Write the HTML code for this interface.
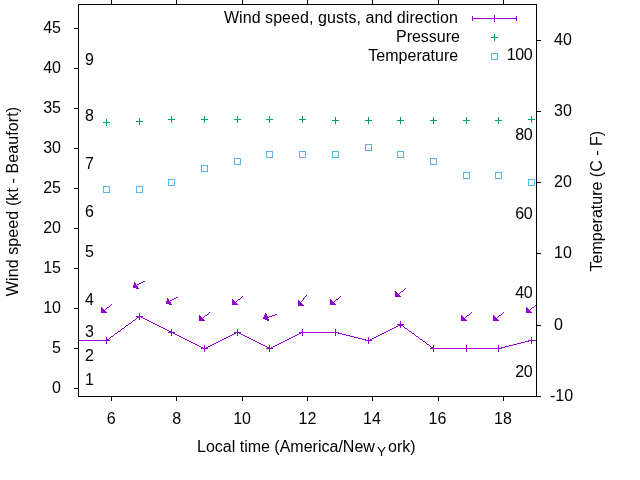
<!DOCTYPE html>
<html><head><meta charset="utf-8"><title>Wind</title>
<style>
html,body{margin:0;padding:0;background:#fff;}
svg{display:block;}
text{font-family:"Liberation Sans",sans-serif;font-size:16px;fill:#000;}
</style></head><body>
<svg width="640" height="480" viewBox="0 0 640 480">
<rect width="640" height="480" fill="#fff"/>

<text x="61" y="393.0" text-anchor="end">0</text>
<text x="61" y="353.0" text-anchor="end">5</text>
<text x="61" y="313.0" text-anchor="end">10</text>
<text x="61" y="273.0" text-anchor="end">15</text>
<text x="61" y="233.0" text-anchor="end">20</text>
<text x="61" y="193.0" text-anchor="end">25</text>
<text x="61" y="153.0" text-anchor="end">30</text>
<text x="61" y="113.0" text-anchor="end">35</text>
<text x="61" y="73.0" text-anchor="end">40</text>
<text x="61" y="33.0" text-anchor="end">45</text>
<text x="550" y="401">-10</text>
<text x="554" y="330">0</text>
<text x="554" y="258">10</text>
<text x="554" y="187">20</text>
<text x="554" y="116">30</text>
<text x="554" y="45">40</text>
<text x="111.2" y="424" text-anchor="middle">6</text>
<text x="176.6" y="424" text-anchor="middle">8</text>
<text x="242.1" y="424" text-anchor="middle">10</text>
<text x="307.5" y="424" text-anchor="middle">12</text>
<text x="372.0" y="424" text-anchor="middle">14</text>
<text x="437.5" y="424" text-anchor="middle">16</text>
<text x="502.9" y="424" text-anchor="middle">18</text>
<text x="85.1" y="385.0">1</text>
<text x="85.1" y="361.0">2</text>
<text x="85.1" y="337.0">3</text>
<text x="85.1" y="305.0">4</text>
<text x="85.1" y="257.0">5</text>
<text x="85.1" y="217.0">6</text>
<text x="85.1" y="169.0">7</text>
<text x="85.1" y="121.0">8</text>
<text x="85.1" y="65.0">9</text>
<text x="532.35" y="377" text-anchor="end" style="letter-spacing:-0.4px">20</text>
<text x="532.35" y="298" text-anchor="end" style="letter-spacing:-0.4px">40</text>
<text x="532.35" y="219" text-anchor="end" style="letter-spacing:-0.4px">60</text>
<text x="532.35" y="140" text-anchor="end" style="letter-spacing:-0.4px">80</text>
<text x="532.35" y="60" text-anchor="end" style="letter-spacing:-0.4px">100</text>
<text transform="translate(18.3,201.5) rotate(-90)" text-anchor="middle" textLength="189.4" lengthAdjust="spacing">Wind speed (kt - Beaufort)</text>
<text transform="translate(602.2,201.2) rotate(-90)" text-anchor="middle">Temperature (C - F)</text>
<text x="197" y="452">Local time (America/New</text>
<text x="377" y="455.5" style="font-size:13.5px">Y</text>
<text x="388" y="452">ork)</text>
<text x="457.8" y="23" text-anchor="end" textLength="233.9" lengthAdjust="spacing">Wind speed, gusts, and direction</text>
<text x="460" y="42" text-anchor="end">Pressure</text>
<text x="458.2" y="61" text-anchor="end">Temperature</text>
<g stroke="#9400d3" stroke-width="1" fill="none"><path d="M472.5 18.5H516.5M472.5 16V21M516.5 16V21M494.5 15V22M491 18.5H498"/></g>
<path d="M491.0 37.5H498.0M494.5 34.0V41.0" stroke="#009e73" stroke-width="1" fill="none"/>
<rect x="491.5" y="53.5" width="6" height="6" stroke="#56b4e9" stroke-width="1" fill="none"/>
<defs><clipPath id="c"><rect x="78" y="4" width="459" height="393"/></clipPath></defs>
<g clip-path="url(#c)" shape-rendering="crispEdges">
<path d="M103.0 340.5H110.0M106.5 337.0V344.0" stroke="#9400d3" stroke-width="1" fill="none"/>
<path d="M136.0 316.5H143.0M139.5 313.0V320.0" stroke="#9400d3" stroke-width="1" fill="none"/>
<path d="M168.0 332.5H175.0M171.5 329.0V336.0" stroke="#9400d3" stroke-width="1" fill="none"/>
<path d="M201.0 348.5H208.0M204.5 345.0V352.0" stroke="#9400d3" stroke-width="1" fill="none"/>
<path d="M234.0 332.5H241.0M237.5 329.0V336.0" stroke="#9400d3" stroke-width="1" fill="none"/>
<path d="M266.0 348.5H273.0M269.5 345.0V352.0" stroke="#9400d3" stroke-width="1" fill="none"/>
<path d="M299.0 332.5H306.0M302.5 329.0V336.0" stroke="#9400d3" stroke-width="1" fill="none"/>
<path d="M332.0 332.5H339.0M335.5 329.0V336.0" stroke="#9400d3" stroke-width="1" fill="none"/>
<path d="M365.0 340.5H372.0M368.5 337.0V344.0" stroke="#9400d3" stroke-width="1" fill="none"/>
<path d="M397.0 324.5H404.0M400.5 321.0V328.0" stroke="#9400d3" stroke-width="1" fill="none"/>
<path d="M430.0 348.5H437.0M433.5 345.0V352.0" stroke="#9400d3" stroke-width="1" fill="none"/>
<path d="M463.0 348.5H470.0M466.5 345.0V352.0" stroke="#9400d3" stroke-width="1" fill="none"/>
<path d="M495.0 348.5H502.0M498.5 345.0V352.0" stroke="#9400d3" stroke-width="1" fill="none"/>
<path d="M528.0 340.5H535.0M531.5 337.0V344.0" stroke="#9400d3" stroke-width="1" fill="none"/>
<path d="M103.0 122.5H110.0M106.5 119.0V126.0" stroke="#009e73" stroke-width="1" fill="none"/>
<path d="M136.0 121.5H143.0M139.5 118.0V125.0" stroke="#009e73" stroke-width="1" fill="none"/>
<path d="M168.0 119.5H175.0M171.5 116.0V123.0" stroke="#009e73" stroke-width="1" fill="none"/>
<path d="M201.0 119.5H208.0M204.5 116.0V123.0" stroke="#009e73" stroke-width="1" fill="none"/>
<path d="M234.0 119.5H241.0M237.5 116.0V123.0" stroke="#009e73" stroke-width="1" fill="none"/>
<path d="M266.0 119.5H273.0M269.5 116.0V123.0" stroke="#009e73" stroke-width="1" fill="none"/>
<path d="M299.0 119.5H306.0M302.5 116.0V123.0" stroke="#009e73" stroke-width="1" fill="none"/>
<path d="M332.0 120.5H339.0M335.5 117.0V124.0" stroke="#009e73" stroke-width="1" fill="none"/>
<path d="M365.0 120.5H372.0M368.5 117.0V124.0" stroke="#009e73" stroke-width="1" fill="none"/>
<path d="M397.0 120.5H404.0M400.5 117.0V124.0" stroke="#009e73" stroke-width="1" fill="none"/>
<path d="M430.0 120.5H437.0M433.5 117.0V124.0" stroke="#009e73" stroke-width="1" fill="none"/>
<path d="M463.0 120.5H470.0M466.5 117.0V124.0" stroke="#009e73" stroke-width="1" fill="none"/>
<path d="M495.0 120.5H502.0M498.5 117.0V124.0" stroke="#009e73" stroke-width="1" fill="none"/>
<path d="M528.0 119.5H535.0M531.5 116.0V123.0" stroke="#009e73" stroke-width="1" fill="none"/>
<rect x="103.5" y="186.5" width="6" height="6" stroke="#56b4e9" stroke-width="1" fill="none"/>
<rect x="136.5" y="186.5" width="6" height="6" stroke="#56b4e9" stroke-width="1" fill="none"/>
<rect x="168.5" y="179.5" width="6" height="6" stroke="#56b4e9" stroke-width="1" fill="none"/>
<rect x="201.5" y="165.5" width="6" height="6" stroke="#56b4e9" stroke-width="1" fill="none"/>
<rect x="234.5" y="158.5" width="6" height="6" stroke="#56b4e9" stroke-width="1" fill="none"/>
<rect x="266.5" y="151.5" width="6" height="6" stroke="#56b4e9" stroke-width="1" fill="none"/>
<rect x="299.5" y="151.5" width="6" height="6" stroke="#56b4e9" stroke-width="1" fill="none"/>
<rect x="332.5" y="151.5" width="6" height="6" stroke="#56b4e9" stroke-width="1" fill="none"/>
<rect x="365.5" y="144.5" width="6" height="6" stroke="#56b4e9" stroke-width="1" fill="none"/>
<rect x="397.5" y="151.5" width="6" height="6" stroke="#56b4e9" stroke-width="1" fill="none"/>
<rect x="430.5" y="158.5" width="6" height="6" stroke="#56b4e9" stroke-width="1" fill="none"/>
<rect x="463.5" y="172.5" width="6" height="6" stroke="#56b4e9" stroke-width="1" fill="none"/>
<rect x="495.5" y="172.5" width="6" height="6" stroke="#56b4e9" stroke-width="1" fill="none"/>
<rect x="528.5" y="179.5" width="6" height="6" stroke="#56b4e9" stroke-width="1" fill="none"/>
<path d="M143 281h2v1h-2zM134 282h1v1h-1zM141 282h2v1h-2zM134 283h2v1h-2zM139 283h2v1h-2zM134 284h2v1h-2zM137 284h2v1h-2zM133 285h4v1h-4zM133 286h5v1h-5zM133 287h5v1h-5zM136 288h3v1h-3zM405 288h1v1h-1zM404 289h1v1h-1zM403 290h1v1h-1zM395 291h1v1h-1zM401 291h2v1h-2zM395 292h2v1h-2zM400 292h1v1h-1zM395 293h3v1h-3zM399 293h1v1h-1zM395 294h4v1h-4zM306 295h1v1h-1zM395 295h5v1h-5zM242 296h1v1h-1zM305 296h1v1h-1zM340 296h1v1h-1zM395 296h6v1h-6zM176 297h2v1h-2zM241 297h1v1h-1zM304 297h1v1h-1zM339 297h1v1h-1zM167 298h1v1h-1zM174 298h2v1h-2zM240 298h1v1h-1zM303 298h1v1h-1zM338 298h1v1h-1zM167 299h2v1h-2zM172 299h2v1h-2zM232 299h1v1h-1zM238 299h2v1h-2zM303 299h1v1h-1zM330 299h1v1h-1zM336 299h2v1h-2zM167 300h2v1h-2zM170 300h2v1h-2zM232 300h2v1h-2zM237 300h1v1h-1zM298 300h1v1h-1zM302 300h1v1h-1zM330 300h2v1h-2zM335 300h1v1h-1zM166 301h4v1h-4zM232 301h3v1h-3zM236 301h1v1h-1zM298 301h2v1h-2zM301 301h1v1h-1zM330 301h3v1h-3zM334 301h1v1h-1zM166 302h5v1h-5zM232 302h4v1h-4zM298 302h3v1h-3zM330 302h4v1h-4zM166 303h5v1h-5zM232 303h5v1h-5zM298 303h4v1h-4zM330 303h5v1h-5zM111 304h1v1h-1zM169 304h3v1h-3zM232 304h6v1h-6zM298 304h5v1h-5zM330 304h6v1h-6zM536 304h1v1h-1zM110 305h1v1h-1zM298 305h6v1h-6zM535 305h1v1h-1zM109 306h1v1h-1zM534 306h1v1h-1zM101 307h1v1h-1zM107 307h2v1h-2zM526 307h1v1h-1zM532 307h2v1h-2zM101 308h2v1h-2zM106 308h1v1h-1zM526 308h2v1h-2zM531 308h1v1h-1zM101 309h3v1h-3zM105 309h1v1h-1zM526 309h3v1h-3zM530 309h1v1h-1zM101 310h4v1h-4zM526 310h4v1h-4zM101 311h5v1h-5zM526 311h5v1h-5zM101 312h6v1h-6zM209 312h1v1h-1zM471 312h1v1h-1zM503 312h1v1h-1zM526 312h6v1h-6zM208 313h1v1h-1zM265 313h1v1h-1zM470 313h1v1h-1zM502 313h1v1h-1zM207 314h1v1h-1zM265 314h2v1h-2zM275 314h2v1h-2zM469 314h1v1h-1zM501 314h1v1h-1zM199 315h1v1h-1zM205 315h2v1h-2zM264 315h3v1h-3zM272 315h3v1h-3zM461 315h1v1h-1zM467 315h2v1h-2zM493 315h1v1h-1zM499 315h2v1h-2zM139 316h2v1h-2zM199 316h2v1h-2zM204 316h1v1h-1zM264 316h4v1h-4zM269 316h3v1h-3zM461 316h2v1h-2zM466 316h1v1h-1zM493 316h2v1h-2zM498 316h1v1h-1zM137 317h2v1h-2zM141 317h2v1h-2zM199 317h3v1h-3zM203 317h1v1h-1zM263 317h6v1h-6zM461 317h3v1h-3zM465 317h1v1h-1zM493 317h3v1h-3zM497 317h1v1h-1zM136 318h1v1h-1zM143 318h2v1h-2zM199 318h4v1h-4zM263 318h5v1h-5zM461 318h4v1h-4zM493 318h4v1h-4zM135 319h1v1h-1zM145 319h2v1h-2zM199 319h5v1h-5zM265 319h4v1h-4zM461 319h5v1h-5zM493 319h5v1h-5zM133 320h2v1h-2zM147 320h2v1h-2zM199 320h6v1h-6zM267 320h2v1h-2zM461 320h6v1h-6zM493 320h6v1h-6zM132 321h1v1h-1zM149 321h2v1h-2zM131 322h1v1h-1zM151 322h2v1h-2zM129 323h2v1h-2zM153 323h2v1h-2zM128 324h1v1h-1zM155 324h2v1h-2zM400 324h1v1h-1zM126 325h2v1h-2zM157 325h2v1h-2zM398 325h2v1h-2zM401 325h2v1h-2zM125 326h1v1h-1zM159 326h2v1h-2zM396 326h2v1h-2zM403 326h1v1h-1zM124 327h1v1h-1zM161 327h2v1h-2zM394 327h2v1h-2zM404 327h1v1h-1zM122 328h2v1h-2zM163 328h2v1h-2zM392 328h2v1h-2zM405 328h2v1h-2zM121 329h1v1h-1zM165 329h2v1h-2zM390 329h2v1h-2zM407 329h1v1h-1zM120 330h1v1h-1zM167 330h2v1h-2zM388 330h2v1h-2zM408 330h1v1h-1zM118 331h2v1h-2zM169 331h2v1h-2zM386 331h2v1h-2zM409 331h2v1h-2zM117 332h1v1h-1zM171 332h2v1h-2zM236 332h3v1h-3zM301 332h37v1h-37zM384 332h2v1h-2zM411 332h1v1h-1zM115 333h2v1h-2zM173 333h2v1h-2zM234 333h2v1h-2zM239 333h2v1h-2zM299 333h2v1h-2zM338 333h4v1h-4zM382 333h2v1h-2zM412 333h2v1h-2zM114 334h1v1h-1zM175 334h2v1h-2zM232 334h2v1h-2zM241 334h2v1h-2zM297 334h2v1h-2zM342 334h4v1h-4zM380 334h2v1h-2zM414 334h1v1h-1zM113 335h1v1h-1zM177 335h2v1h-2zM230 335h2v1h-2zM243 335h2v1h-2zM295 335h2v1h-2zM346 335h4v1h-4zM378 335h2v1h-2zM415 335h1v1h-1zM111 336h2v1h-2zM179 336h2v1h-2zM228 336h2v1h-2zM245 336h2v1h-2zM293 336h2v1h-2zM350 336h4v1h-4zM376 336h2v1h-2zM416 336h2v1h-2zM110 337h1v1h-1zM181 337h2v1h-2zM226 337h2v1h-2zM247 337h2v1h-2zM291 337h2v1h-2zM354 337h4v1h-4zM374 337h2v1h-2zM418 337h1v1h-1zM109 338h1v1h-1zM183 338h2v1h-2zM224 338h2v1h-2zM249 338h2v1h-2zM289 338h2v1h-2zM358 338h4v1h-4zM372 338h2v1h-2zM419 338h1v1h-1zM107 339h2v1h-2zM185 339h2v1h-2zM222 339h2v1h-2zM251 339h2v1h-2zM287 339h2v1h-2zM362 339h4v1h-4zM370 339h2v1h-2zM420 339h2v1h-2zM78 340h29v1h-29zM187 340h2v1h-2zM220 340h2v1h-2zM253 340h2v1h-2zM285 340h2v1h-2zM366 340h4v1h-4zM422 340h1v1h-1zM529 340h8v1h-8zM189 341h2v1h-2zM218 341h2v1h-2zM255 341h2v1h-2zM283 341h2v1h-2zM423 341h2v1h-2zM525 341h4v1h-4zM191 342h2v1h-2zM216 342h2v1h-2zM257 342h2v1h-2zM281 342h2v1h-2zM425 342h1v1h-1zM521 342h4v1h-4zM193 343h2v1h-2zM214 343h2v1h-2zM259 343h2v1h-2zM279 343h2v1h-2zM426 343h1v1h-1zM517 343h4v1h-4zM195 344h2v1h-2zM212 344h2v1h-2zM261 344h2v1h-2zM277 344h2v1h-2zM427 344h2v1h-2zM513 344h4v1h-4zM197 345h2v1h-2zM210 345h2v1h-2zM263 345h2v1h-2zM275 345h2v1h-2zM429 345h1v1h-1zM509 345h4v1h-4zM199 346h2v1h-2zM208 346h2v1h-2zM265 346h2v1h-2zM273 346h2v1h-2zM430 346h1v1h-1zM505 346h4v1h-4zM201 347h2v1h-2zM206 347h2v1h-2zM267 347h2v1h-2zM271 347h2v1h-2zM431 347h2v1h-2zM501 347h4v1h-4zM203 348h3v1h-3zM269 348h2v1h-2zM433 348h68v1h-68z" fill="#9400d3"/>
</g>
<g stroke="#000" stroke-width="1" fill="none" shape-rendering="crispEdges">
<rect x="78.5" y="4.5" width="458.0" height="392.0"/>
<line x1="74.0" y1="388.5" x2="78.5" y2="388.5"/>
<line x1="74.0" y1="348.5" x2="78.5" y2="348.5"/>
<line x1="74.0" y1="308.5" x2="78.5" y2="308.5"/>
<line x1="74.0" y1="268.5" x2="78.5" y2="268.5"/>
<line x1="74.0" y1="228.5" x2="78.5" y2="228.5"/>
<line x1="74.0" y1="188.5" x2="78.5" y2="188.5"/>
<line x1="74.0" y1="148.5" x2="78.5" y2="148.5"/>
<line x1="74.0" y1="108.5" x2="78.5" y2="108.5"/>
<line x1="74.0" y1="68.5" x2="78.5" y2="68.5"/>
<line x1="74.0" y1="28.5" x2="78.5" y2="28.5"/>
<line x1="536.5" y1="396.5" x2="541.0" y2="396.5"/>
<line x1="536.5" y1="325.5" x2="541.0" y2="325.5"/>
<line x1="536.5" y1="253.5" x2="541.0" y2="253.5"/>
<line x1="536.5" y1="182.5" x2="541.0" y2="182.5"/>
<line x1="536.5" y1="111.5" x2="541.0" y2="111.5"/>
<line x1="536.5" y1="40.5" x2="541.0" y2="40.5"/>
<line x1="111.5" y1="396.5" x2="111.5" y2="401.0"/>
<line x1="111.5" y1="4.5" x2="111.5" y2="0"/>
<line x1="176.5" y1="396.5" x2="176.5" y2="401.0"/>
<line x1="176.5" y1="4.5" x2="176.5" y2="0"/>
<line x1="242.5" y1="396.5" x2="242.5" y2="401.0"/>
<line x1="242.5" y1="4.5" x2="242.5" y2="0"/>
<line x1="307.5" y1="396.5" x2="307.5" y2="401.0"/>
<line x1="307.5" y1="4.5" x2="307.5" y2="0"/>
<line x1="372.5" y1="396.5" x2="372.5" y2="401.0"/>
<line x1="372.5" y1="4.5" x2="372.5" y2="0"/>
<line x1="438.5" y1="396.5" x2="438.5" y2="401.0"/>
<line x1="438.5" y1="4.5" x2="438.5" y2="0"/>
<line x1="503.5" y1="396.5" x2="503.5" y2="401.0"/>
<line x1="503.5" y1="4.5" x2="503.5" y2="0"/>
</g>
</svg></body></html>
